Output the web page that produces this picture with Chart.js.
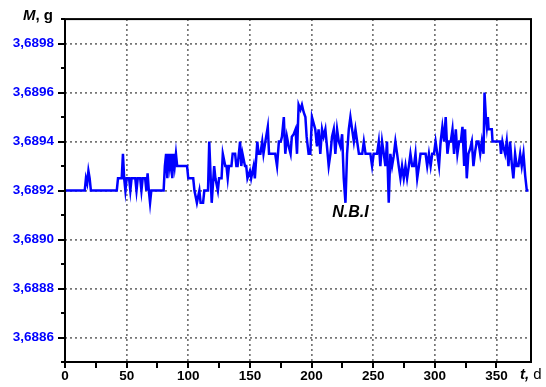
<!DOCTYPE html>
<html>
<head>
<meta charset="utf-8">
<script src="https://cdn.jsdelivr.net/npm/chart.js@4/dist/chart.umd.min.js"></script>
<style>
  html, body { margin: 0; padding: 0; background: #fff; }
  #wrap { width: 546px; height: 387px; }
</style>
</head>
<body>
<div id="wrap"><canvas id="c" width="546" height="387"></canvas></div>
<script>
// Sample mass M (g) against time t (days)
const days = [
  0, 16, 17, 18, 19, 20, 21, 42, 43, 46, 47, 48, 49, 50, 52, 53, 54, 57, 58, 59,
  61, 62, 63, 65, 66, 67, 68, 69, 70, 80, 81, 82, 83, 84, 85, 86, 87, 88, 89, 90,
  91, 99, 100, 104, 105, 107, 109, 110, 112, 113, 116, 117, 119, 121, 122, 124, 125, 127, 128, 130,
  131, 132, 133, 135, 136, 138, 139, 140, 142, 143, 144, 146, 147, 148, 150, 151, 153, 154, 156, 157,
  158.5, 160, 161, 162.5, 164.5, 165.5, 170.5, 172, 173.5, 175, 176, 177.5, 178.7, 180, 181.5, 183, 184, 185.5, 187, 188.2,
  189.5, 191, 192.2, 193.6, 195, 196, 197.6, 199, 200.3, 203, 204.4, 205.7, 207.1, 208.5, 209.8, 211.2, 212.5, 213.9, 215.3, 216.6,
  218, 219.3, 220.7, 222.1, 223.4, 224.8, 226.1, 227.5, 228.8, 230.2, 231.5, 232.9, 234.3, 235.6, 237, 238.4, 241.1, 242.4, 243.8, 247.7,
  249.1, 250.4, 253.1, 254.5, 255.8, 257.2, 258.6, 259.9, 261.2, 262.6, 263.9, 265.3, 266.6, 268, 269.4, 270.7, 272.1, 273.4, 274.8, 276.2,
  277.5, 278.9, 280.2, 281.6, 283, 284.3, 285.7, 287.1, 288.4, 292.5, 293.8, 295.2, 296.6, 297.9, 299.3, 300.6, 302, 303.4, 304.7, 306.1,
  307.5, 308.8, 310.2, 311.5, 312.9, 314.3, 315.6, 317, 318.3, 319.7, 321.1, 322.4, 323.8, 324.5, 325.9, 327.2, 328.6, 330, 331.3, 332.7,
  334, 335.4, 336.8, 338.1, 339.5, 340.3, 341.4, 342.2, 343, 343.6, 346.2, 346.8, 352.9, 353.7, 354.8, 355.6, 357, 358.3, 359.7, 361,
  362.4, 363.7, 365.1, 366.4, 367.8, 369.2, 370.5, 371.9, 373.3, 374.6, 376
];
const mass = [
  3.68920, 3.68920, 3.68925, 3.68923, 3.68928, 3.68925, 3.68920, 3.68920, 3.68925, 3.68925, 3.68935, 3.68925, 3.68920, 3.68925, 3.68925, 3.68920, 3.68925, 3.68925, 3.68920, 3.68925,
  3.68925, 3.68920, 3.68925, 3.68925, 3.68920, 3.68927, 3.68920, 3.68915, 3.68920, 3.68920, 3.68930, 3.68935, 3.68925, 3.68935, 3.68930, 3.68935, 3.68925, 3.68935, 3.68930, 3.68935,
  3.68930, 3.68930, 3.68925, 3.68925, 3.68920, 3.68915, 3.68920, 3.68915, 3.68915, 3.68920, 3.68920, 3.68940, 3.68915, 3.68930, 3.68925, 3.68920, 3.68925, 3.68925, 3.68935, 3.68930,
  3.68930, 3.68925, 3.68930, 3.68930, 3.68935, 3.68935, 3.68930, 3.68930, 3.68940, 3.68930, 3.68935, 3.68930, 3.68930, 3.68925, 3.68928, 3.68925, 3.68930, 3.68925, 3.68940, 3.68935,
  3.68935, 3.68940, 3.68935, 3.68940, 3.68946, 3.68935, 3.68935, 3.68930, 3.68940, 3.68940, 3.68942, 3.68950, 3.68935, 3.68942, 3.68938, 3.68935, 3.68942, 3.68943, 3.68945, 3.68935,
  3.68955, 3.68953, 3.68955, 3.68952, 3.68950, 3.68942, 3.68935, 3.68935, 3.68950, 3.68945, 3.68938, 3.68945, 3.68935, 3.68945, 3.68942, 3.68945, 3.68938, 3.68930, 3.68935, 3.68942,
  3.68945, 3.68935, 3.68945, 3.68940, 3.68938, 3.68943, 3.68925, 3.68915, 3.68935, 3.68945, 3.68950, 3.68945, 3.68940, 3.68945, 3.68940, 3.68935, 3.68935, 3.68940, 3.68935, 3.68935,
  3.68930, 3.68935, 3.68935, 3.68940, 3.68930, 3.68940, 3.68935, 3.68930, 3.68940, 3.68915, 3.68935, 3.68930, 3.68934, 3.68940, 3.68935, 3.68930, 3.68925, 3.68930, 3.68925, 3.68930,
  3.68925, 3.68930, 3.68935, 3.68930, 3.68930, 3.68935, 3.68925, 3.68930, 3.68935, 3.68935, 3.68930, 3.68935, 3.68930, 3.68935, 3.68935, 3.68940, 3.68935, 3.68930, 3.68940, 3.68946,
  3.68940, 3.68950, 3.68935, 3.68940, 3.68940, 3.68945, 3.68935, 3.68945, 3.68935, 3.68940, 3.68940, 3.68946, 3.68930, 3.68945, 3.68925, 3.68935, 3.68937, 3.68940, 3.68930, 3.68936,
  3.68940, 3.68940, 3.68935, 3.68940, 3.68935, 3.68960, 3.68950, 3.68946, 3.68950, 3.68945, 3.68945, 3.68940, 3.68940, 3.68935, 3.68940, 3.68938, 3.68935, 3.68940, 3.68930, 3.68940,
  3.68931, 3.68925, 3.68935, 3.68930, 3.68930, 3.68935, 3.68930, 3.68935, 3.68926, 3.68920, 3.68920
];

// Axis ticks
const xMajor = [0, 50, 100, 150, 200, 250, 300, 350];
const yMajor = [3.6886, 3.6888, 3.6890, 3.6892, 3.6894, 3.6896, 3.6898];
const yMajorLabels = ['3,6886', '3,6888', '3,6890', '3,6892', '3,6894', '3,6896', '3,6898'];

const X_MIN = 0, X_MAX = 378;
const Y_MIN = 3.6885, Y_MAX = 3.6899;

const FONT = "'Liberation Sans', Arial, Helvetica, sans-serif";
const GRID = '#767676';

const isXMajor = v => xMajor.some(m => Math.abs(m - v) < 1e-6);
const yMajorIndex = v => yMajor.findIndex(m => Math.abs(m - v) < 1e-8);

// Frame, outward tick marks, axis titles and the note
const decorations = {
  id: 'decorations',
  afterDatasetsDraw(chart) {
    const { ctx, chartArea: a, scales: { x, y } } = chart;
    ctx.save();
    ctx.strokeStyle = '#000';
    ctx.lineWidth = 2;
    ctx.strokeRect(a.left, a.top, a.right - a.left, a.bottom - a.top);

    ctx.beginPath();
    y.ticks.forEach(t => {
      const p = Math.round(y.getPixelForValue(t.value));
      const len = yMajorIndex(t.value) >= 0 ? 7 : 4;
      ctx.moveTo(a.left - len, p);
      ctx.lineTo(a.left, p);
    });
    x.ticks.forEach(t => {
      if (Math.abs(t.value % 25) > 1e-6) return;
      const p = Math.round(x.getPixelForValue(t.value));
      ctx.moveTo(p, a.bottom);
      ctx.lineTo(p, a.bottom + 6);
    });
    ctx.stroke();

    // axis titles
    ctx.fillStyle = '#000';
    ctx.textBaseline = 'alphabetic';
    ctx.textAlign = 'left';
    ctx.font = `italic bold 15px ${FONT}`;
    const mW = ctx.measureText('M').width;
    ctx.font = `bold 15px ${FONT}`;
    const gW = ctx.measureText(', g').width;
    const mx = a.left - 12 - mW - gW;
    ctx.font = `italic bold 15px ${FONT}`;
    ctx.fillText('M', mx, 20);
    ctx.font = `bold 15px ${FONT}`;
    ctx.fillText(', g', mx + mW, 20);

    ctx.font = `italic bold 15px ${FONT}`;
    ctx.fillText('t,', 520, 379);
    const tW = ctx.measureText('t,').width;
    ctx.font = `15px ${FONT}`;
    ctx.fillText(' d', 520 + tW, 379);

    // note below the dip
    ctx.font = `italic bold 16px ${FONT}`;
    ctx.textAlign = 'center';
    ctx.fillText('N.B.I', x.getPixelForValue(231.5), y.getPixelForValue(3.68909));
    ctx.restore();
  }
};

new Chart(document.getElementById('c'), {
  type: 'line',
  data: {
    datasets: [{
      data: days.map((d, i) => ({ x: d, y: mass[i] })),
      borderColor: '#0000ff',
      borderWidth: 2.5,
      pointRadius: 0,
      tension: 0,
      fill: false
    }]
  },
  options: {
    responsive: false,
    animation: false,
    devicePixelRatio: 1,
    layout: { padding: { top: 15, right: 15, left: 0, bottom: 0 } },
    plugins: { legend: { display: false }, tooltip: { enabled: false } },
    scales: {
      x: {
        type: 'linear',
        min: X_MIN,
        max: X_MAX,
        afterFit: s => { s.height = 25; },
        ticks: {
          stepSize: 25,
          autoSkip: false,
          maxRotation: 0,
          padding: 6,
          color: '#000',
          font: { family: FONT, size: 13.5, weight: 'bold' },
          callback: v => (isXMajor(v) ? String(v) : '')
        },
        grid: {
          drawTicks: false,
          lineWidth: 1.7,
          color: c => (c.tick && isXMajor(c.tick.value) && c.tick.value > 0 ? GRID : 'rgba(0,0,0,0)'),
          borderDash: [2, 3]
        },
        border: { display: false, dash: [2, 3] }
      },
      y: {
        type: 'linear',
        min: Y_MIN,
        max: Y_MAX,
        afterFit: s => { s.width = 65; },
        ticks: {
          stepSize: 0.0001,
          autoSkip: false,
          padding: 11,
          color: '#0000ff',
          font: { family: FONT, size: 13.5, weight: 'bold' },
          callback: v => { const i = yMajorIndex(v); return i >= 0 ? yMajorLabels[i] : ''; }
        },
        grid: {
          drawTicks: false,
          lineWidth: 1.7,
          color: c => (c.tick && yMajorIndex(c.tick.value) >= 0 ? GRID : 'rgba(0,0,0,0)'),
          borderDash: [2, 3]
        },
        border: { display: false, dash: [2, 3] }
      }
    }
  },
  plugins: [decorations]
});
</script>
</body>
</html>
